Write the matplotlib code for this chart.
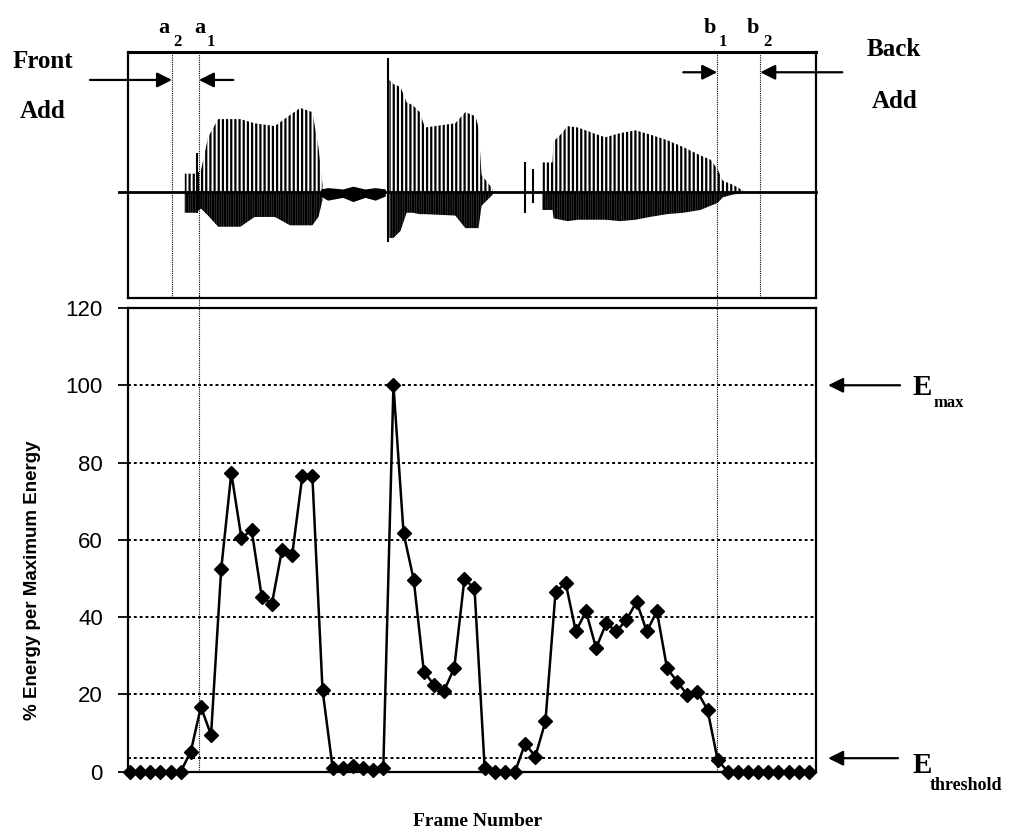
import numpy as np
import matplotlib
matplotlib.use("Agg")
import matplotlib.pyplot as plt

plt.rcParams["hatch.linewidth"] = 1.6

W, H = 1014, 836
SERIF = "Liberation Serif"
SANS = "Liberation Sans"

# % energy per maximum energy, one value per frame
energy = [0, 0, 0, 0, 0, 0,
          5.2, 16.8, 9.5, 52.4, 77.3, 60.4, 62.6, 45.3, 43.4, 57.4, 56, 76.4, 76.4, 21.2,
          1, 1, 1.5, 1, 0.5, 1,
          100, 61.7, 49.7, 25.9, 22.5, 21, 26.8, 49.8, 47.5, 1,
          0, 0, 0,
          7.3, 3.9, 13, 46.6, 48.8, 36.3, 41.5, 32, 38.4, 36.3, 39.3, 44, 36.3, 41.5,
          26.8, 23.3, 19.9, 20.7, 16, 3,
          0, 0, 0, 0, 0, 0, 0, 0, 0]
frames = np.arange(1, len(energy) + 1)

e_threshold = 3.5
e_max = 100
grid_levels = [20, 40, 60, 80, 100]
y_ticks = [0, 20, 40, 60, 80, 100, 120]

# boundary marks (frame units)
a2, a1, b1, b2 = 5.15, 7.8, 58.95, 63.2

# speech waveform envelope (frame units, relative amplitude)
syl1_x = [6.4, 7.5, 8.0, 8.7, 9.7, 11.9, 13.3, 15.3, 16.8, 17.8, 19.0, 19.6, 20.0]
syl1_up = [0.13, 0.13, 0.15, 0.39, 0.52, 0.52, 0.49, 0.47, 0.55, 0.60, 0.57, 0.32, 0.05]
syl1_lo = [-0.15, -0.15, -0.12, -0.17, -0.25, -0.25, -0.18, -0.18, -0.24, -0.24, -0.24, -0.18, -0.06]

noise_x = [19.8, 20.5, 22.0, 23.0, 24.2, 25.2, 26.2]
noise_up = [0.02, 0.03, 0.02, 0.04, 0.02, 0.03, 0.02]
noise_lo = [-0.03, -0.06, -0.04, -0.07, -0.04, -0.06, -0.03]

syl2_x = [26.6, 27.0, 27.7, 28.3, 28.9, 29.6, 30.1, 33.1, 34.1, 35.1, 35.4, 35.7, 36.8]
syl2_up = [0.80, 0.77, 0.75, 0.64, 0.62, 0.57, 0.46, 0.49, 0.57, 0.54, 0.46, 0.12, 0.02]
syl2_lo = [-0.33, -0.33, -0.28, -0.15, -0.15, -0.16, -0.16, -0.17, -0.26, -0.26, -0.26, -0.10, -0.02]

syl3_x = [41.7, 42.7, 42.8, 43.5, 44.2, 45.2, 46.7, 47.9, 49.4, 50.9, 52.3, 54.0,
          55.6, 57.3, 58.3, 59.0, 59.5, 60.5, 61.5]
syl3_up = [0.21, 0.21, 0.36, 0.41, 0.47, 0.46, 0.42, 0.39, 0.42, 0.44, 0.41, 0.37,
           0.32, 0.26, 0.23, 0.16, 0.08, 0.05, 0.01]
syl3_lo = [-0.13, -0.13, -0.19, -0.20, -0.21, -0.20, -0.20, -0.20, -0.21, -0.20, -0.18, -0.16,
           -0.15, -0.13, -0.10, -0.08, -0.04, -0.02, -0.01]

spike_x = [7.6, 26.45, 40.0, 40.8]
spike_top = [0.28, 0.96, 0.21, 0.16]
spike_bot = [-0.15, -0.36, -0.15, -0.08]


def fx(px):
    return px / W


def fy(py):
    return 1 - py / H


fig = plt.figure(figsize=(W / 100, H / 100), dpi=100)
ax_top = fig.add_axes([0.1262, 0.6435, 0.6785, 0.2943])
ax = fig.add_axes([0.1262, 0.0769, 0.6785, 0.5547])

for a in (ax_top, ax):
    a.set_xlim(0.8, 68.7)
    for s in a.spines.values():
        s.set_linewidth(1.6)
ax_top.spines["top"].set_linewidth(2.2)

# ---- waveform panel ----
ax_top.set_ylim(-0.76, 1.0)
ax_top.set_xticks([])
ax_top.set_yticks([])
for xs, up, lo in [(syl1_x, syl1_up, syl1_lo), (syl2_x, syl2_up, syl2_lo), (syl3_x, syl3_up, syl3_lo)]:
    ax_top.fill_between(xs, 0, up, facecolor="none", edgecolor="black", hatch="||||", linewidth=0)
    ax_top.fill_between(xs, lo, 0, facecolor="none", edgecolor="black", hatch="|||||||", linewidth=0)
ax_top.fill_between(noise_x, noise_lo, noise_up, color="black", linewidth=0)
ax_top.vlines(spike_x, spike_bot, spike_top, color="black", lw=1.5)
ax_top.plot([-0.1, 68.7], [0, 0], color="black", lw=2, clip_on=False)

for xv in (a2, a1, b1, b2):
    ax_top.axvline(xv, color="black", lw=0.8, ls=(0, (1, 1)))

arrow = dict(arrowstyle="-|>,head_length=0.9,head_width=0.45", color="black",
             lw=1.6, mutation_scale=10, shrinkA=0, shrinkB=0)
ax_top.annotate("", xy=(a2, 0.80), xytext=(-2.95, 0.80), arrowprops=arrow, annotation_clip=False)
ax_top.annotate("", xy=(a1, 0.80), xytext=(11.2, 0.80), arrowprops=arrow, annotation_clip=False)
ax_top.annotate("", xy=(b1, 0.855), xytext=(55.6, 0.855), arrowprops=arrow, annotation_clip=False)
ax_top.annotate("", xy=(b2, 0.855), xytext=(71.3, 0.855), arrowprops=arrow, annotation_clip=False)

# ---- energy panel ----
ax.set_ylim(0, 120)
ax.set_xticks([])
ax.set_yticks(y_ticks)
ax.tick_params(axis="y", direction="out", length=7, width=1.3, pad=11, labelsize=16)
for lab in ax.get_yticklabels():
    lab.set_family(SANS)
for g in grid_levels:
    ax.axhline(g, color="black", lw=1.4, ls=(0, (1.5, 1.5)))
ax.axhline(e_threshold, color="black", lw=1.4, ls=(0, (1.5, 1.5)))
for xv in (a1, b1):
    ax.axvline(xv, ymin=0, ymax=1.03, color="black", lw=0.8, ls=(0, (1, 1)), clip_on=False)

ax.plot(frames, energy, color="black", lw=1.8, marker="D", markersize=7.5, clip_on=False, zorder=5)

ax.annotate("", xy=(69.9, e_max), xytext=(77.0, e_max), arrowprops=arrow, annotation_clip=False)
ax.annotate("", xy=(69.9, e_threshold), xytext=(76.8, e_threshold), arrowprops=arrow, annotation_clip=False)

# ---- text ----
bold_serif = dict(family=SERIF, fontweight="bold", color="black")
fig.text(fx(43), fy(61), "Front", ha="center", va="center", fontsize=18, **bold_serif)
fig.text(fx(43), fy(111), "Add", ha="center", va="center", fontsize=18, **bold_serif)
fig.text(fx(894), fy(50), "Back", ha="center", va="center", fontsize=18, **bold_serif)
fig.text(fx(895), fy(101), "Add", ha="center", va="center", fontsize=18, **bold_serif)

for letter, sub, lx, sx in [("a", "2", 164, 177), ("a", "1", 200, 211),
                            ("b", "1", 710, 723), ("b", "2", 753, 767)]:
    fig.text(fx(lx), fy(33), letter, ha="center", va="baseline", fontsize=16, **bold_serif)
    fig.text(fx(sx), fy(46), sub, ha="center", va="baseline", fontsize=12, **bold_serif)

fig.text(fx(913), fy(395), "E", ha="left", va="baseline", fontsize=21, **bold_serif)
fig.text(fx(933), fy(407), "max", ha="left", va="baseline", fontsize=12, **bold_serif)
fig.text(fx(913), fy(773), "E", ha="left", va="baseline", fontsize=21, **bold_serif)
fig.text(fx(930), fy(790), "threshold", ha="left", va="baseline", fontsize=13, **bold_serif)

fig.text(fx(478), fy(822), "Frame Number", ha="center", va="center", fontsize=14, **bold_serif)
fig.text(fx(33), fy(580), "% Energy per Maximum Energy", ha="center", va="center",
         rotation=90, fontsize=13.5, family=SANS, fontweight="bold")

fig.savefig("out.png", dpi=100)
